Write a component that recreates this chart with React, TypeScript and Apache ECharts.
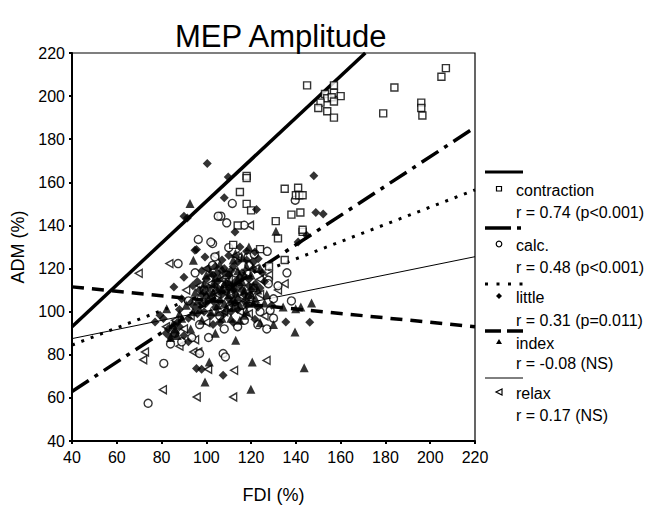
import React, { useEffect, useRef } from 'react';
import * as echarts from 'echarts';

const contraction: number[][] = [
  [145, 205], [157, 205], [153, 201], [157, 201.5], [160, 200], [154, 199], [156, 199.5], [157, 197.5],
  [151, 197], [150, 194.5], [154, 193], [157, 190], [184, 204], [179, 192], [196, 197], [196, 194.5],
  [196.5, 191], [205, 209], [207, 213],
  [141, 157.5], [140, 154], [141.5, 154], [143, 154], [138, 145], [142, 146], [143, 137], [135, 157],
  [118, 163], [118, 162], [115, 155.5], [118, 150], [120, 147], [114, 140], [131, 142], [132, 134], [143, 138],
  [124, 129], [112, 131], [128, 121], [109, 117], [121, 111], [135, 124]
];

const calc: number[][] = [
  [74, 57.5], [81, 76], [97, 80.6], [107.5, 80.6], [108.5, 79], [93.5, 88], [114, 93], [128.5, 100.6],
  [130, 97], [127, 92], [123, 94], [119.5, 107], [127.7, 114.6], [110, 129.7], [102.8, 131.6], [96.4, 133.5],
  [102, 132.3], [87.4, 122.3], [103.8, 125.4], [102.8, 121.5], [111.6, 150.2], [106.5, 144.3], [109.1, 141.2],
  [116.9, 140.1], [118.7, 125.4], [121.4, 126.6], [127.2, 128], [139.7, 151.7], [105.3, 144.3], [119, 121.5],
  [127.7, 113], [113, 118], [97, 94], [86, 90], [116, 103], [136, 118], [138, 105], [132, 112], [106, 98],
  [92, 105], [101, 88], [89, 86], [99, 110], [111, 108], [124, 100], [108, 92], [95, 118], [117, 96], [130, 106], [84, 85]
];

const little: number[][] = [
  [100.4, 168.7], [109.8, 162.5], [108, 152.8], [122.4, 147.4], [112.8, 137], [90, 144.3], [91.5, 143.5],
  [148, 163.1], [148.9, 146], [152.2, 145.3], [144.8, 135.4], [141, 132.3], [95.6, 128.8], [99.4, 125.4],
  [94.9, 128.5], [85.5, 111.5], [79.3, 98.3], [80.8, 96.8], [77.1, 95.2], [83, 92], [86, 90], [84, 88], [88, 93],
  [95.6, 73.6], [97.9, 73.3], [107.5, 70.5], [135.5, 95.2], [146.2, 95.1], [121.7, 96.5], [129.2, 103],
  [123.2, 124.6], [121.7, 127.7],
  [100, 115], [104, 112], [107, 108], [110, 106], [112, 110], [115, 112], [103, 105], [98, 108], [95, 102],
  [105, 118], [108, 120], [113, 104], [117, 108], [119, 115], [111, 100], [106, 95], [102, 98], [92, 97],
  [96, 114], [101, 120], [114, 123], [109, 113], [104, 102], [116, 118], [120, 110], [94, 112], [89, 106],
  [90, 116], [98, 119], [125, 118], [103, 94], [112, 95], [107, 124], [118, 103], [110, 117], [99, 100],
  [88, 101], [113, 114], [106, 110], [121, 120],
  [101, 111], [105, 114], [109, 109], [111, 104], [114, 101], [116, 110], [119, 107], [122, 113], [124, 111],
  [100, 104], [97, 110], [103, 117], [107, 119], [112, 121], [115, 116], [118, 124], [121, 123], [110, 111],
  [106, 105], [102, 108], [96, 99], [93, 104], [108, 99], [113, 108], [117, 105], [123, 102], [119, 112],
  [104, 121], [111, 119], [126, 114], [87, 95], [90, 89], [82, 90], [92, 86], [115, 130], [118, 128], [110, 126]
];

const indexF: number[][] = [
  [92.7, 150.2], [131.1, 137.3], [94.2, 123.8], [82.3, 101.4], [99.4, 67.4], [101.3, 76.7], [119.9, 64],
  [120.5, 76.7], [143.7, 74], [139.6, 90.6], [139.9, 101.4], [142.2, 102.2], [134.3, 102.2], [147, 104],
  [116.9, 98.3], [113.1, 86.7], [124, 95], [130, 94], [85, 94], [87, 89],
  [105, 110], [108, 104], [111, 112], [114, 107], [101, 106], [99, 113], [104, 116], [109, 118], [116, 114],
  [119, 104], [122, 106], [97, 101], [102, 100], [107, 97], [112, 102], [118, 121], [106, 122], [95, 109],
  [91, 103], [115, 96], [110, 108], [100, 117], [121, 112], [126, 104], [113, 127], [98, 96], [104, 90],
  [88, 99], [93, 92], [127, 108], [103, 109], [117, 110], [108, 113], [111, 97], [96, 105], [120, 117],
  [105, 103], [114, 119],
  [103, 113], [106, 116], [110, 114], [113, 111], [117, 117], [120, 108], [123, 110], [100, 108], [98, 104],
  [105, 100], [109, 102], [112, 106], [115, 103], [118, 100], [107, 111], [102, 118], [114, 115], [121, 104],
  [124, 120], [99, 110], [94, 100], [86, 92], [89, 97], [84, 88], [116, 125], [112, 124], [119, 130]
];

const relax: number[][] = [
  [69.8, 117.8], [83.5, 122.3], [72.6, 81.3], [71.8, 77.7], [80.6, 63.8], [94.2, 81.3], [96.4, 81.3],
  [95.7, 60.4], [100.8, 73.3], [112, 60.4], [112.4, 72.8], [126.9, 77.4], [119.5, 140.1], [114.2, 125.4],
  [123.9, 115], [90, 92], [86, 96], [95, 87], [88, 84], [82, 93],
  [105, 108], [110, 115], [115, 100], [100, 95], [118, 118], [108, 100], [122, 120], [98, 104], [126, 98],
  [132, 110], [97, 112], [104, 126], [113, 126], [93, 98], [107, 115], [119, 99], [102, 113], [116, 107],
  [124, 108], [110, 102], [128, 117], [100, 120], [135, 113], [91, 110]
];

const contractionFit = [[40, 93], [171, 220]];
const calcFit = [[40, 63], [220, 185.5]];
const littleFit = [[40, 84.5], [220, 156.5]];
const indexFit = [[40, 111.5], [220, 93]];
const relaxFit = [[40, 87.5], [220, 125.5]];

const legendNames = ['contraction', 'calc.', 'little', 'index', 'relax'];
const legendStats = ['r = 0.74 (p<0.001)', 'r = 0.48 (p<0.001)', 'r = 0.31 (p=0.011)', 'r = -0.08 (NS)', 'r = 0.17 (NS)'];

const FONT = 'Liberation Sans, Arial, sans-serif';
const LEFT_TRI = 'path://M8,0L0,5L8,10Z';

export default function App() {
  const ref = useRef<HTMLDivElement>(null);
  useEffect(() => {
    document.body.style.margin = '0';
    const chart = echarts.init(ref.current!, null, { renderer: 'svg' });
    const open = { color: '#fff', borderColor: '#000', borderWidth: 1.4 };
    const filled = { color: '#000' };
    const fitLine = (data: number[][], width: number, type: any) => ({
      type: 'line', data, showSymbol: false, symbol: 'none', silent: true, z: 1,
      lineStyle: { color: '#000', width, type }
    });

    const lx0 = 485, lx1 = 523, tx = 516;
    const rowY = [
      { line: 172, name: 190, stat: 212 },
      { line: 228, name: 245, stat: 267 },
      { line: 284, name: 297, stat: 320 },
      { line: 331, name: 343, stat: 363 },
      { line: 378, name: 393, stat: 415 }
    ];
    const g: any[] = [];
    const ls = (x1: number, x2: number, y: number, w: number, dash?: number[]) => ({
      type: 'line', shape: { x1, y1: y, x2, y2: y },
      style: { stroke: '#000', lineWidth: w, lineDash: dash }
    });
    g.push(ls(lx0, lx1, rowY[0].line, 3));
    g.push(ls(lx0, 511, rowY[1].line, 3.5));
    g.push(ls(517, 521, rowY[1].line, 3.5));
    g.push(ls(lx0, lx1 + 2, rowY[2].line, 3, [3, 8.5]));
    g.push(ls(lx0, 501, rowY[3].line, 3.5));
    g.push(ls(507, lx1, rowY[3].line, 3.5));
    g.push(ls(lx0, lx1, rowY[4].line, 1));
    const mx = 499;
    g.push({ type: 'rect', shape: { x: mx - 2.5, y: rowY[0].name - 3.5, width: 5, height: 4.5 }, style: { fill: '#fff', stroke: '#000', lineWidth: 1.2 } });
    g.push({ type: 'circle', shape: { cx: mx, cy: rowY[1].name - 1, r: 2.8 }, style: { fill: '#fff', stroke: '#000', lineWidth: 1.2 } });
    g.push({ type: 'polygon', shape: { points: [[mx, rowY[2].name - 4], [mx + 3, rowY[2].name - 1], [mx, rowY[2].name + 2], [mx - 3, rowY[2].name - 1]] }, style: { fill: '#000' } });
    g.push({ type: 'polygon', shape: { points: [[mx, rowY[3].name - 4], [mx + 3, rowY[3].name + 1], [mx - 3, rowY[3].name + 1]] }, style: { fill: '#000' } });
    g.push({ type: 'polygon', shape: { points: [[mx + 3, rowY[4].name - 4], [mx - 3, rowY[4].name - 1], [mx + 3, rowY[4].name + 2]] }, style: { fill: '#fff', stroke: '#000', lineWidth: 1.2 } });
    legendNames.forEach((n, i) => {
      g.push({ type: 'text', x: tx, y: rowY[i].name, style: { text: n, font: `16px ${FONT}`, fill: '#000', verticalAlign: 'middle', align: 'left' } });
      g.push({ type: 'text', x: tx, y: rowY[i].stat, style: { text: legendStats[i], font: `16px ${FONT}`, fill: '#000', verticalAlign: 'middle', align: 'left' } });
    });

    const axisCommon = {
      type: 'value', min: 40, max: 220, interval: 20,
      splitLine: { show: false },
      axisLine: { show: true, lineStyle: { color: '#000', width: 2 } },
      axisTick: { show: true, length: 3, lineStyle: { color: '#000', width: 2 } },
      axisLabel: { color: '#000', fontSize: 16, fontFamily: FONT },
      nameLocation: 'middle',
      nameTextStyle: { color: '#000', fontSize: 18, fontFamily: FONT }
    };

    chart.setOption({
      animation: false,
      backgroundColor: '#fff',
      title: {
        text: 'MEP Amplitude', left: 170, top: 16,
        textStyle: { fontSize: 31, fontWeight: 'normal', color: '#000', fontFamily: FONT }
      },
      grid: { left: 72, right: 173, top: 53, bottom: 70, show: true, borderColor: '#000', borderWidth: 1.2, backgroundColor: 'transparent' },
      xAxis: { ...axisCommon, name: 'FDI (%)', nameGap: 45, axisLabel: { ...axisCommon.axisLabel, margin: 8 } },
      yAxis: { ...axisCommon, name: 'ADM (%)', nameGap: 39, axisLabel: { ...axisCommon.axisLabel, margin: 7 } },
      graphic: g,
      series: [
        { type: 'scatter', name: 'relax', data: relax, symbol: LEFT_TRI, symbolSize: [7, 8], itemStyle: open, z: 2 },
        { type: 'scatter', name: 'calc.', data: calc, symbol: 'circle', symbolSize: 8, itemStyle: open, z: 2 },
        { type: 'scatter', name: 'contraction', data: contraction, symbol: 'rect', symbolSize: 7, itemStyle: open, z: 2 },
        { type: 'scatter', name: 'little', data: little, symbol: 'diamond', symbolSize: 9, itemStyle: filled, z: 3 },
        { type: 'scatter', name: 'index', data: indexF, symbol: 'triangle', symbolSize: 9, itemStyle: filled, z: 3 },
        fitLine(contractionFit, 3.5, 'solid'),
        fitLine(calcFit, 3.5, [20, 7, 4, 7]),
        fitLine(littleFit, 3, [3, 7]),
        fitLine(indexFit, 3.5, [12, 8]),
        fitLine(relaxFit, 1, 'solid')
      ]
    });
    return () => chart.dispose();
  }, []);
  return <div ref={ref} style={{ width: 648, height: 511 }} />;
}
